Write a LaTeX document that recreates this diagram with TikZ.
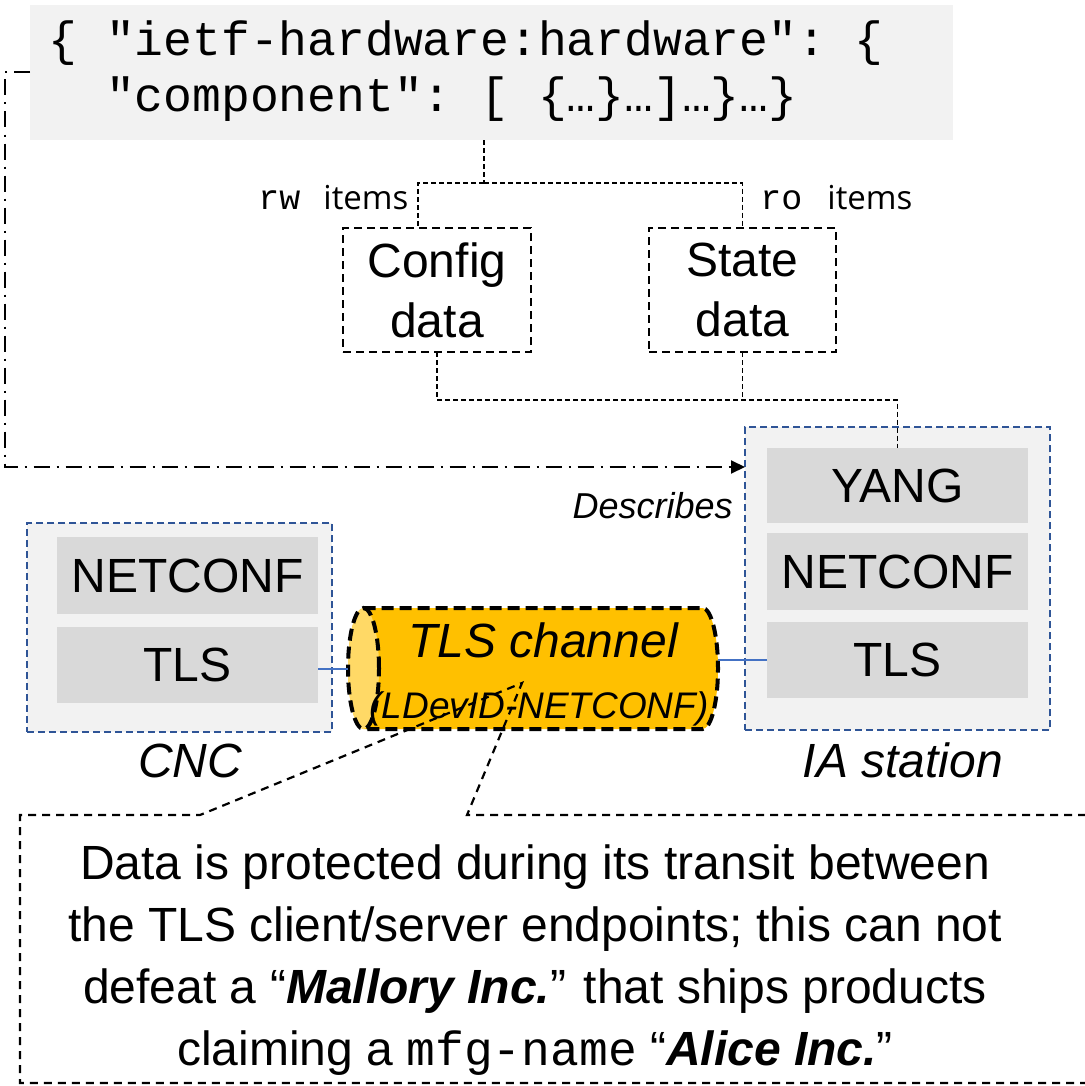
\documentclass[tikz,border=0pt]{standalone}
\usepackage{fontspec}
\setmainfont{Liberation Sans}
\setmonofont{Liberation Mono}
\newfontfamily\itemsfont{Open Sans}
\usetikzlibrary{arrows.meta,calc}

\definecolor{panelbg}{HTML}{F2F2F2}
\definecolor{layerbg}{HTML}{D9D9D9}
\definecolor{frameblue}{HTML}{2F5597}
\definecolor{linkblue}{HTML}{4472C4}
\definecolor{pipebody}{HTML}{FFC000}
\definecolor{pipeend}{HTML}{FFD966}

\begin{document}
\begin{tikzpicture}[x=0.5pt,y=-0.5pt,
  box/.style={anchor=north west, inner sep=0pt, outer sep=0pt},
  jsonbox/.style={box, fill=panelbg},
  jsonline/.style={anchor=base west, inner sep=0pt, font=\ttfamily\fontsize{24}{28}\selectfont},
  station/.style={box, fill=panelbg, draw=frameblue, line width=1.2pt, dash pattern=on 3.5pt off 2pt},
  layer/.style={box, fill=layerbg, font=\fontsize{24}{28}\selectfont},
  datanode/.style={box, draw=black, line width=1pt, dash pattern=on 4pt off 2.5pt,
                   align=center, font=\fontsize{24}{30}\selectfont},
  tree/.style={draw=black, line width=0.7pt, dash pattern=on 2.5pt off 1.5pt},
  tagmono/.style={anchor=base west, inner sep=0pt, font=\ttfamily\fontsize{17.5}{20}\selectfont},
  tagtext/.style={anchor=base west, inner sep=0pt, font=\itemsfont\fontsize{16.5}{20}\selectfont},
  caption/.style={anchor=base, inner sep=0pt, font=\itshape\fontsize{24}{28}\selectfont},
  describes/.style={draw=black, line width=1pt, dash pattern=on 8pt off 3.5pt on 1pt off 3.5pt,
                    -{Triangle[length=7pt,width=6.5pt]}},
  link/.style={draw=linkblue, line width=0.6pt},
  pipeline/.style={draw=black, line width=2pt, dash pattern=on 6pt off 3pt},
  calloutline/.style={draw=black, line width=1.1pt, dash pattern=on 4pt off 3pt},
]
\useasboundingbox (0,0) rectangle (1084,1086);

% JSON instance of the hardware model
\node[jsonbox, minimum width=461.5pt, minimum height=67.5pt] (json) at (30,5) {};
\node[jsonline] (jsonA) at (48,56) {\{ "ietf-hardware:hardware": \{};
\node[jsonline] (jsonB) at (105.6,112) {"component": [ \{…\}…]…\}…\}};

% config / state split
\node[datanode, minimum width=94pt, minimum height=62pt] (config) at (343,228) {Config\\data};
\node[datanode, minimum width=93.5pt, minimum height=62pt] (state) at (649,228) {State\\data};

\node[tagmono] (rwtag) at (258,209) {rw};
\node[tagtext] (rwitems) at (323,209) {items};
\node[tagmono] (rotag) at (760,209) {ro};
\node[tagtext] (roitems) at (827,209) {items};

% CNC stack
\node[station, minimum width=152.5pt, minimum height=104.5pt] (cnc) at (27,523) {};
\node[layer, minimum width=130.5pt, minimum height=38.5pt] (cncNC) at (57,537) {NETCONF};
\node[layer, minimum width=130.5pt, minimum height=38pt] (cncTLS) at (57,627) {TLS};
\node[caption] (cnclabel) at (190,777) {CNC};

% IA station stack
\node[station, minimum width=152.5pt, minimum height=151.5pt] (ia) at (745,427) {};
\node[layer, minimum width=130.5pt, minimum height=37.5pt] (yang) at (767,448) {YANG};
\node[layer, minimum width=130.5pt, minimum height=38.5pt] (iaNC) at (767,533) {NETCONF};
\node[layer, minimum width=130.5pt, minimum height=38pt] (iaTLS) at (767,622) {TLS};
\node[caption] (ialabel) at (903,777) {IA station};

% tree from the JSON instance to the two kinds of data
\coordinate (split) at ($(json.south)+(-7.5,43)$);
\draw[tree] ($(json.south)+(-7.5,0)$) -- (split);
\draw[tree] (split) -| ($(config.north)+(-19,0)$);
\draw[tree] (split) -| (state.north);
\draw[tree] (config.south) -- ++(0,48) -| (yang.north);
\draw[tree] (state.south) -- ++(0,48);

% "Describes" relation
\coordinate (bend) at (5,467);
\draw[describes] (json.west) -| (bend) -- (bend -| ia.west);
\node[anchor=base east, inner sep=0pt, font=\itshape\fontsize{18}{20}\selectfont] (desc) at (733,518) {Describes};

% TLS channel as a horizontal pipe
\node[box, minimum width=185pt, minimum height=60.5pt] (chan) at (348,608) {};
\fill[pipebody] ([xshift=7.75pt]chan.north west) -- ([xshift=-7.75pt]chan.north east)
  arc[start angle=90,end angle=-90,x radius=7.75pt,y radius=30.25pt]
  -- ([xshift=7.75pt]chan.south west)
  arc[start angle=270,end angle=90,x radius=7.75pt,y radius=30.25pt] -- cycle;
\fill[pipeend] ([xshift=7.75pt]chan.west) ellipse[x radius=7.75pt, y radius=30.25pt];
\draw[pipeline] ([xshift=7.75pt]chan.north west) -- ([xshift=-7.75pt]chan.north east)
  arc[start angle=90,end angle=-90,x radius=7.75pt,y radius=30.25pt]
  -- ([xshift=7.75pt]chan.south west);
\draw[pipeline] ([xshift=7.75pt]chan.west) ellipse[x radius=7.75pt, y radius=30.25pt];
\node[anchor=base, inner sep=0pt, font=\itshape\fontsize{24}{28}\selectfont] (chanA) at (543,657) {TLS channel};
\node[anchor=base, inner sep=0pt, font=\itshape\fontsize{18.5}{20}\selectfont] (chanB) at (539,718) {(LDevID-NETCONF)};

% links between TLS endpoints and the channel
\draw[link] ([yshift=-2pt]cncTLS.east) -- ([yshift=-2pt]cncTLS.east -| chan.west);
\draw[link] (iaTLS.west) -- (iaTLS.west -| chan.east);

% callout
\coordinate (tip) at (522,683);
\draw[calloutline] (1100,815) -- (467,815) -- (tip) -- (200,815) -- (20,815) -- (20,1083) -- (1100,1083);
\node[align=center, inner sep=0pt, font=\fontsize{24}{31}\selectfont] (note) at (535,960)
  {Data is protected during its transit between\\
   the TLS client/server endpoints; this can not\\
   defeat a “\textbf{\textit{Mallory Inc.}}” that ships products\\
   claiming a \texttt{mfg-name} “\textbf{\textit{Alice Inc.}}”};
\end{tikzpicture}
\end{document}
